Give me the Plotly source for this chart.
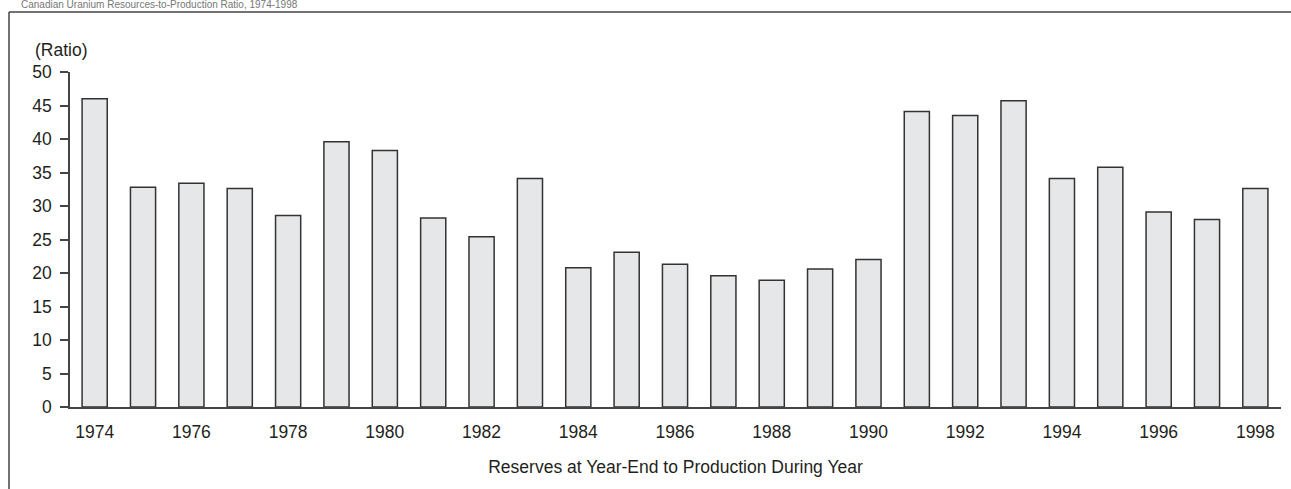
import plotly.graph_objects as go

# Canadian uranium reserves-to-production ratio by year
years = list(range(1974, 1999))
ratio = [46.0, 32.8, 33.4, 32.6, 28.6, 39.6, 38.3, 28.2, 25.4, 34.1,
         20.8, 23.1, 21.3, 19.6, 18.9, 20.6, 22.0, 44.1, 43.5, 45.7,
         34.1, 35.8, 29.1, 28.0, 32.6]
x_ticks = list(range(1974, 1999, 2))
y_ticks = list(range(0, 51, 5))

title_text = "Canadian Uranium Resources-to-Production Ratio, 1974-1998"
y_unit = "(Ratio)"
x_title = "Reserves at Year-End to Production During Year"

W, H = 1291, 489
ML, MR, MT, MB = 70, 10, 72, 82
PW, PH = W - ML - MR, H - MT - MB


def px_to_paper_x(px):
    return (px - ML) / PW


def px_to_paper_y(py):
    return (H - MB - py) / PH


FONT = "Liberation Sans, Arial, sans-serif"
INK = "#231f20"
FS = 17.5

fig = go.Figure(
    go.Bar(
        x=years,
        y=ratio,
        width=0.52,
        marker=dict(color="#e6e7e8", line=dict(color="#333333", width=1.5)),
    )
)

fig.update_layout(
    width=W,
    height=H,
    margin=dict(l=ML, r=MR, t=MT, b=MB, pad=0),
    paper_bgcolor="white",
    plot_bgcolor="white",
    showlegend=False,
    font=dict(family=FONT, size=FS, color=INK),
    xaxis=dict(
        range=[1973.49, 1998.53],
        tickmode="array",
        tickvals=x_ticks,
        ticktext=[str(v) for v in x_ticks],
        ticks="",
        ticklabelstandoff=8,
        showgrid=False,
        zeroline=False,
        showline=True,
        linecolor="#444444",
        linewidth=1.5,
        tickfont=dict(size=FS, color=INK),
        title=dict(text=x_title, font=dict(size=FS, color=INK), standoff=20),
    ),
    yaxis=dict(
        range=[0, 50],
        tickmode="array",
        tickvals=y_ticks,
        ticks="outside",
        ticklen=8,
        tickwidth=1.5,
        tickcolor="#444444",
        ticklabelstandoff=5,
        showgrid=False,
        zeroline=False,
        showline=True,
        linecolor="#444444",
        linewidth=1.5,
        tickfont=dict(size=FS, color=INK),
    ),
    annotations=[
        dict(
            text=y_unit, xref="paper", yref="paper",
            x=px_to_paper_x(33), y=px_to_paper_y(50),
            xanchor="left", yanchor="middle", showarrow=False,
            font=dict(size=FS, color=INK),
        ),
        dict(
            text=title_text, xref="paper", yref="paper",
            x=px_to_paper_x(20), y=px_to_paper_y(11),
            xanchor="left", yanchor="bottom", showarrow=False,
            borderpad=0,
            font=dict(size=10, color="#777777"),
        ),
    ],
    shapes=[
        dict(type="line", xref="paper", yref="paper",
             x0=px_to_paper_x(9), x1=px_to_paper_x(9),
             y0=px_to_paper_y(12), y1=px_to_paper_y(H + 20),
             line=dict(color="#444444", width=1.5)),
        dict(type="line", xref="paper", yref="paper",
             x0=px_to_paper_x(9), x1=px_to_paper_x(W + 20),
             y0=px_to_paper_y(12), y1=px_to_paper_y(12),
             line=dict(color="#444444", width=1.5)),
    ],
)

fig.write_html("out.html")
